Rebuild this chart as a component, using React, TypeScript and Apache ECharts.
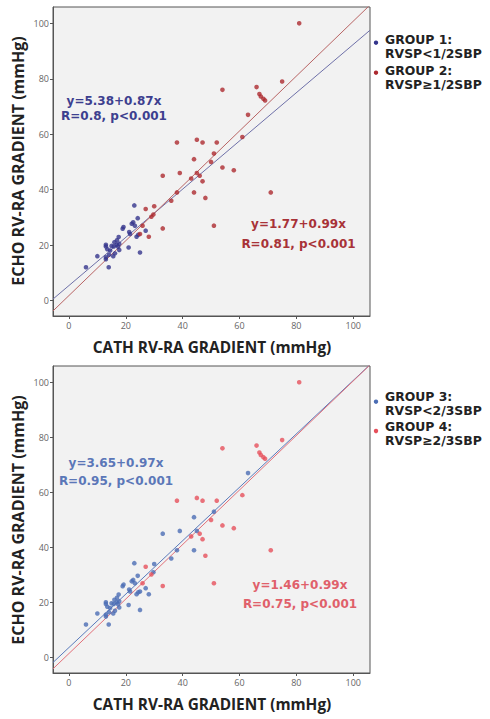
import React, { useEffect, useRef } from "react";
import * as echarts from "echarts";

// CATH gradient (x) and ECHO gradient (y), mmHg
const cathGradient = [
  6, 10, 14, 13, 13, 13.5, 13, 13, 14.1, 15, 15.8, 16.8, 17.7, 15.6, 16.2, 17.5, 16.9, 17.3, 17.7,
  18.9, 19.2, 21, 21.2, 21.5, 22.1, 22.6, 23.2, 23, 24.2, 24.4, 23.8, 25, 27, 14.5, 16,
  25.9, 25, 27, 28.1, 30, 29, 29.7, 33, 33, 36, 38, 38, 39, 43, 44, 44, 45, 45, 46, 47, 47, 48,
  50, 51, 51, 52, 54, 54, 58, 61, 63, 66, 67, 67.5, 68.4, 69, 71, 75, 81,
];
const echoGradient = [
  12, 16, 12, 20.1, 19.5, 18.5, 14.9, 15.6, 16.5, 19.7, 19.5, 20.1, 20.5, 16, 17, 22.9, 21.7, 19.4, 18.2,
  25.9, 26.5, 19.1, 24.7, 24, 27.7, 28.2, 27, 34.3, 29.7, 23.7, 23, 17.3, 25.2, 18, 21,
  27, 24, 33, 23, 34, 30.2, 31, 45, 26, 36, 39, 57, 46, 44, 51, 39, 58, 46, 45, 57, 43, 37,
  50, 53, 27, 57, 76, 48, 47, 59, 67, 77, 74.5, 73.6, 72.8, 72.2, 39, 79, 100,
];
// group by RVSP vs 1/2 SBP (1 or 2) and vs 2/3 SBP (3 or 4)
const halfSbpGroup = [
  1, 1, 1, 1, 1, 1, 1, 1, 1, 1, 1, 1, 1, 1, 1, 1, 1, 1, 1, 1, 1, 1, 1, 1, 1, 1, 1, 1, 1, 1, 1, 1, 1, 1, 1,
  2, 2, 2, 2, 2, 2, 2, 2, 2, 2, 2, 2, 2, 2, 2, 2, 2, 2, 2, 2, 2, 2, 2, 2, 2, 2, 2, 2, 2, 2, 2, 2, 2, 2, 2, 2, 2, 2, 2,
];
const twoThirdsSbpGroup = [
  3, 3, 3, 3, 3, 3, 3, 3, 3, 3, 3, 3, 3, 3, 3, 3, 3, 3, 3, 3, 3, 3, 3, 3, 3, 3, 3, 3, 3, 3, 3, 3, 3, 3, 3,
  4, 3, 4, 3, 3, 4, 3, 3, 4, 3, 3, 4, 3, 4, 3, 3, 4, 3, 4, 4, 4, 4, 4, 3, 4, 4, 4, 4, 4, 4, 3, 4, 4, 4, 4, 4, 4, 4, 4,
];

const tickValues = [0, 20, 40, 60, 80, 100];

// regression fits: intercept, slope, correlation label
const fit1 = { a: 5.38, b: 0.87, r: "R=0.8, p<0.001" };
const fit2 = { a: 1.77, b: 0.99, r: "R=0.81, p<0.001" };
const fit3 = { a: 3.65, b: 0.97, r: "R=0.95, p<0.001" };
const fit4 = { a: 1.46, b: 0.99, r: "R=0.75, p<0.001" };

const legendLabels = [
  ["GROUP 1:", "RVSP<1/2SBP"],
  ["GROUP 2:", "RVSP≥1/2SBP"],
  ["GROUP 3:", "RVSP<2/3SBP"],
  ["GROUP 4:", "RVSP≥2/3SBP"],
];

const X_TITLE = "CATH RV-RA GRADIENT (mmHg)";
const Y_TITLE = "ECHO RV-RA GRADIENT (mmHg)";

const AX_MIN = -5.6;
const AX_MAX = 105.9;
const FONT = "'Open Sans', 'DejaVu Sans', sans-serif";
const WIDE = "'DejaVu Sans', 'Open Sans', sans-serif";

const C = {
  g1: "#34358c",
  g2: "#ac2a30",
  g3: "#4b6db4",
  g4: "#e6505b",
  l1: "#6e70a8",
  l2: "#b86464",
  l3: "#5a7abb",
  l4: "#e27079",
  t1: "#3d3f8f",
  t2: "#a83238",
  t3: "#5b77b8",
  t4: "#e0606a",
};

function points(groups: number[], g: number) {
  const out: number[][] = [];
  for (let i = 0; i < cathGradient.length; i++) {
    if (groups[i] === g) out.push([cathGradient[i], echoGradient[i]]);
  }
  return out;
}

function fitLine(f: { a: number; b: number }) {
  return [
    [AX_MIN, f.a + f.b * AX_MIN],
    [AX_MAX, f.a + f.b * AX_MAX],
  ];
}

export default function App() {
  const ref = useRef<HTMLDivElement>(null);
  useEffect(() => {
    if (!ref.current) return;
    const chart = echarts.init(ref.current, undefined, { renderer: "svg" });
    const grids = [
      { left: 53, top: 7, width: 317, height: 309 },
      { left: 53, top: 366, width: 317, height: 307 },
    ];
    const mkAxis = (gi: number, margin: number) => ({
      type: "value",
      gridIndex: gi,
      min: AX_MIN,
      max: AX_MAX,
      splitLine: { show: false },
      axisLine: { show: true, onZero: false, lineStyle: { color: "#555", width: 1 } },
      axisTick: { show: true, length: 3, customValues: tickValues, lineStyle: { color: "#555" } },
      axisLabel: {
        customValues: tickValues,
        color: "#666",
        fontSize: 9,
        fontFamily: FONT,
        margin,
      },
    });
    const scatter = (gi: number, data: number[][], color: string, name: string) => ({
      type: "scatter",
      name,
      xAxisIndex: gi,
      yAxisIndex: gi,
      data,
      symbolSize: 4.6,
      itemStyle: { color },
      z: 3,
    });
    const line = (gi: number, f: { a: number; b: number }, color: string) => ({
      type: "line",
      xAxisIndex: gi,
      yAxisIndex: gi,
      data: fitLine(f),
      showSymbol: false,
      symbol: "none",
      clip: true,
      lineStyle: { color, width: 1 },
      z: 2,
    });
    const txt = (
      text: string,
      x: number,
      y: number,
      fill: string,
      fontSize: number,
      extra: any = {}
    ) => {
      const { align, family, ...rest } = extra;
      return {
        type: "text",
        x,
        y,
        z: 10,
        ...rest,
        style: {
          text,
          x: 0,
          y: 0,
          fill,
          fontSize,
          fontWeight: "bold",
          fontFamily: family || FONT,
          align: align || "center",
          textAlign: align || "center",
          verticalAlign: "middle",
          textVerticalAlign: "middle",
        },
      };
    };
    const legendItem = (y1: number, y2: number, dotY: number, color: string, lines: string[]) => [
      { type: "circle", shape: { cx: 376, cy: dotY, r: 2.2 }, style: { fill: color }, z: 10 },
      txt(lines[0], 385, y1, "#222", 12.4, { align: "left", family: WIDE }),
      txt(lines[1], 385, y2, "#222", 12.4, { align: "left", family: WIDE }),
    ];
    const note = (f: { a: number; b: number; r: string }, cx: number, y1: number, y2: number, color: string) => [
      txt(`y=${f.a}+${f.b}x`, cx, y1, color, 12, { family: WIDE }),
      txt(f.r, cx, y2, color, 12, { family: WIDE }),
    ];
    const graphic: any[] = [
      // axis titles
      txt(X_TITLE, 212, 347.5, "#222", 15.4),
      txt(X_TITLE, 212, 704, "#222", 15.4),
      txt(Y_TITLE, 18, 161, "#222", 16, { rotation: Math.PI / 2 }),
      txt(Y_TITLE, 18, 520, "#222", 16, { rotation: Math.PI / 2 }),
      // fit annotations
      ...note(fit1, 114, 101.3, 115.6, C.t1),
      ...note(fit2, 298.5, 224, 243.5, C.t2),
      ...note(fit3, 116, 462.5, 481, C.t3),
      ...note(fit4, 300, 584.5, 604, C.t4),
      // legends
      ...legendItem(39, 53.5, 42.7, C.g1, legendLabels[0]),
      ...legendItem(70, 84.5, 72.7, C.g2, legendLabels[1]),
      ...legendItem(396, 410.5, 401.7, C.g3, legendLabels[2]),
      ...legendItem(426, 440.5, 431, C.g4, legendLabels[3]),
    ];
    chart.setOption({
      animation: false,
      backgroundColor: "#ffffff",
      grid: grids.map((g) => ({
        ...g,
        show: true,
        backgroundColor: "#f2f2f2",
        borderColor: "#555",
        borderWidth: 1,
        containLabel: false,
      })),
      xAxis: [mkAxis(0, 5), mkAxis(1, 5)],
      yAxis: [mkAxis(0, 4), mkAxis(1, 4)],
      series: [
        line(0, fit1, C.l1),
        line(0, fit2, C.l2),
        scatter(0, points(halfSbpGroup, 1), C.g1, legendLabels[0].join(" ")),
        scatter(0, points(halfSbpGroup, 2), C.g2, legendLabels[1].join(" ")),
        line(1, fit3, C.l3),
        line(1, fit4, C.l4),
        scatter(1, points(twoThirdsSbpGroup, 3), C.g3, legendLabels[2].join(" ")),
        scatter(1, points(twoThirdsSbpGroup, 4), C.g4, legendLabels[3].join(" ")),
      ],
      graphic,
    });
    return () => chart.dispose();
  }, []);
  return <div ref={ref} style={{ width: 490, height: 719, position: "absolute", left: 0, top: 0 }} />;
}
